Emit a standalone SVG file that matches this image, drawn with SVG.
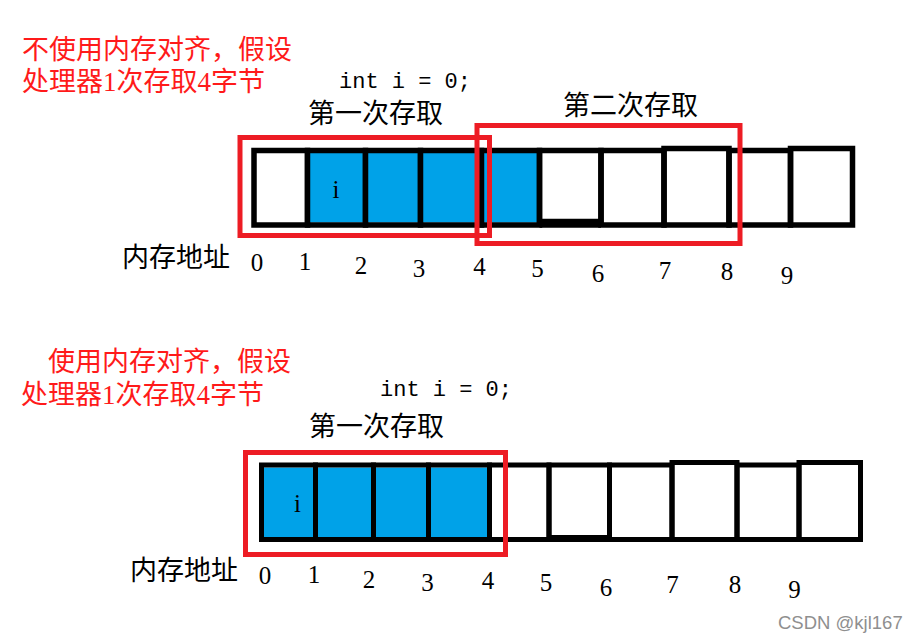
<svg xmlns="http://www.w3.org/2000/svg" width="919" height="642" viewBox="0 0 919 642">
<style>
.red{font-family:"Liberation Serif","Noto Sans CJK SC",serif;font-size:27px;fill:#FF1A1A}
.cn{font-family:"Liberation Serif","Noto Sans CJK SC",serif;font-size:27px;fill:#000}
.code{font-family:"Liberation Mono",monospace;font-size:22px;fill:#000}
.num{font-family:"Liberation Serif",serif;font-size:25px;fill:#000;text-anchor:middle}
.cell{fill:none;stroke:#000;stroke-width:5.5}
.cell2{fill:none;stroke:#000;stroke-width:5}
.blue{fill:#00A2E8}
.box{fill:none;stroke:#ED1C24;stroke-width:5}
.wm{font-family:"Liberation Sans",Arial,sans-serif;font-size:18.5px;fill:#8f8f8f}
</style>
<rect width="919" height="642" fill="#fff"/>

<!-- Top section texts -->
<text class="red" x="22" y="59">不使用内存对齐，假设</text>
<text class="red" x="22" y="91">处理器1次存取4字节</text>
<text class="code" x="339" y="88">int i = 0;</text>
<text class="cn" x="308" y="123">第一次存取</text>
<text class="cn" x="563" y="115">第二次存取</text>
<text class="cn" x="122" y="267">内存地址</text>

<!-- Top row cells -->
<g id="top-cells">
  <g id="t0"><rect class="cell" x="254" y="150.5" width="53.5" height="74.5"/></g>
  <g id="t1"><rect class="blue" x="310" y="153" width="53" height="69.5"/><rect class="cell" x="307.5" y="150.5" width="58" height="74.5"/><text class="num" x="336" y="198">i</text></g>
  <g id="t2"><rect class="blue" x="368" y="153" width="50" height="69.5"/><rect class="cell" x="365.5" y="150.5" width="55" height="74.5"/></g>
  <g id="t3"><rect class="blue" x="423" y="153" width="56" height="69.5"/><rect class="cell" x="420.5" y="150.5" width="61" height="74.5"/></g>
  <g id="t4"><rect class="blue" x="484" y="153" width="53" height="69.5"/><rect class="cell" x="481.5" y="150.5" width="58" height="74.5"/></g>
  <g id="t5"><rect class="cell" x="539.5" y="150.5" width="61.5" height="71"/><line x1="539.5" y1="225" x2="601" y2="225" stroke="#000" stroke-width="5.5"/></g>
  <g id="t6"><rect class="cell" x="601" y="150.5" width="63" height="74.5"/></g>
  <g id="t7"><rect class="cell" x="664" y="148.5" width="65" height="76.5"/></g>
  <g id="t8"><rect class="cell" x="729" y="150.5" width="61.5" height="74.5"/></g>
  <g id="t9"><rect class="cell" x="790.5" y="148.5" width="62" height="76.5"/></g>
</g>

<g id="top-addresses">
  <text class="num" x="257" y="271">0</text>
  <text class="num" x="305" y="270">1</text>
  <text class="num" x="361" y="274">2</text>
  <text class="num" x="419" y="277">3</text>
  <text class="num" x="479.5" y="275">4</text>
  <text class="num" x="537.5" y="277">5</text>
  <text class="num" x="598" y="282">6</text>
  <text class="num" x="665" y="279">7</text>
  <text class="num" x="727" y="280">8</text>
  <text class="num" x="787" y="284">9</text>
</g>

<g id="top-boxes">
  <rect class="box" x="240" y="137.5" width="249.5" height="98"/>
  <rect class="box" x="477" y="125.5" width="263" height="118"/>
</g>

<!-- Bottom section texts -->
<text class="red" x="48" y="371">使用内存对齐，假设</text>
<text class="red" x="21" y="404">处理器1次存取4字节</text>
<text class="code" x="380" y="396">int i = 0;</text>
<text class="cn" x="309" y="436">第一次存取</text>
<text class="cn" x="130" y="580">内存地址</text>

<g id="bottom-cells">
  <g id="b0"><rect class="blue" x="264" y="467.5" width="49" height="69.5"/><rect class="cell2" x="261.5" y="465" width="54" height="74.5"/><text class="num" x="297.5" y="512">i</text></g>
  <g id="b1"><rect class="blue" x="318" y="467.5" width="53" height="69.5"/><rect class="cell2" x="315.5" y="465" width="58" height="74.5"/></g>
  <g id="b2"><rect class="blue" x="376" y="467.5" width="50" height="69.5"/><rect class="cell2" x="373.5" y="465" width="55" height="74.5"/></g>
  <g id="b3"><rect class="blue" x="431" y="467.5" width="56" height="69.5"/><rect class="cell2" x="428.5" y="465" width="61" height="74.5"/></g>
  <g id="b4"><rect class="cell2" x="489.5" y="465" width="59.5" height="74.5"/></g>
  <g id="b5"><rect class="cell2" x="549" y="465" width="60.5" height="72.5"/><line x1="549" y1="539.5" x2="609.5" y2="539.5" stroke="#000" stroke-width="5"/></g>
  <g id="b6"><rect class="cell2" x="609.5" y="465" width="62.5" height="74.5"/></g>
  <g id="b7"><rect class="cell2" x="672" y="462.5" width="65" height="77"/></g>
  <g id="b8"><rect class="cell2" x="737" y="465" width="62" height="74.5"/></g>
  <g id="b9"><rect class="cell2" x="799" y="462.5" width="61.5" height="77"/></g>
</g>

<g id="bottom-addresses">
  <text class="num" x="265" y="584">0</text>
  <text class="num" x="314" y="583">1</text>
  <text class="num" x="369" y="588">2</text>
  <text class="num" x="427.5" y="591">3</text>
  <text class="num" x="488" y="589">4</text>
  <text class="num" x="546" y="591">5</text>
  <text class="num" x="606" y="596">6</text>
  <text class="num" x="672.5" y="593">7</text>
  <text class="num" x="735" y="593">8</text>
  <text class="num" x="794.5" y="598">9</text>
</g>

<g id="bottom-boxes">
  <rect class="box" x="245.5" y="452.5" width="260" height="102"/>
</g>

<text class="wm" x="778" y="629">CSDN @kjl167</text>
</svg>
